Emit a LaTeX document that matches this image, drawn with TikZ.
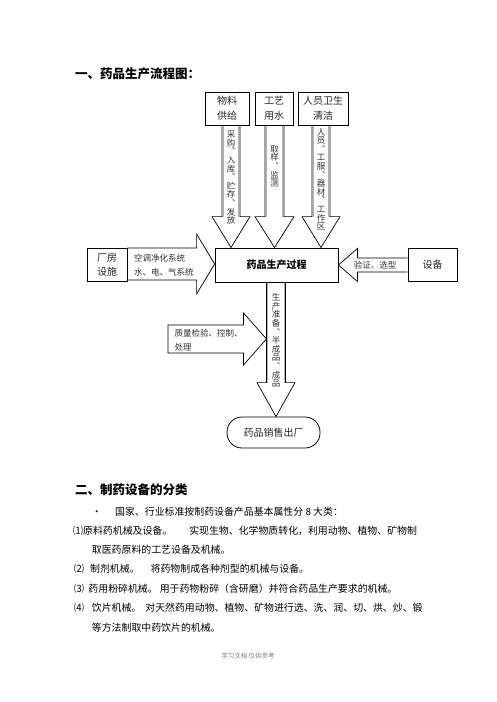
\documentclass[tikz,border=0pt]{standalone}
\usepackage{fontspec}
\setmainfont{Noto Sans CJK SC}
\newfontfamily\vfont{Noto Sans CJK SC}[RawFeature=+vert]
\usetikzlibrary{calc}
\tikzset{
  box/.style={draw, line width=0.8pt, inner sep=0pt, align=center, font=\fontsize{10}{15}\selectfont, text=black!85},
  blk/.style={draw, line width=0.7pt, line join=miter},
  shaftedge/.style={draw=gray!60, line width=1.1pt},
  lbl/.style={inner sep=0pt, font=\fontsize{8.5}{14}\selectfont, align=left, text=black!80},
  vlbl/.style={inner sep=0pt, font=\vfont\fontsize{8.5}{8.6}\selectfont, align=center, text=black!80},
  body/.style={anchor=west, inner sep=0pt, font=\fontsize{9.9}{12}\selectfont},
  headline/.style={anchor=west, inner sep=0pt, font=\bfseries\fontsize{12.5}{14}\selectfont},
}
% vertical block arrow: #1 x, #2 top anchor, #3 tip anchor, #4 half shaft, #5 half head, #6 head length
\newcommand\varrowx[6]{%
  \path (#1,0) coordinate (vx);
  \path (vx |- #2) coordinate (vt) (vx |- #3) coordinate (vb);
  \draw[blk] ($(vt)+(-#4,0)$) -- ($(vb)+(-#4,-#6)$) -- ($(vb)+(-#5,-#6)$) -- (vb)
     -- ($(vb)+(#5,-#6)$) -- ($(vb)+(#4,-#6)$) -- ($(vt)+(#4,0)$);
  \draw[shaftedge] ($(vt)+({-#4+1.3},0.6)$) -- ($(vb)+({-#4+1.3},-#6)$)
                   ($(vt)+({#4-1.3},0.6)$) -- ($(vb)+({#4-1.3},-#6)$);
}
% horizontal block arrow: #1 y, #2 start anchor, #3 tip anchor, #4 half shaft, #5 half head, #6 head base offset from tip
\newcommand\harrowx[6]{%
  \path (0,#1) coordinate (hy);
  \path (hy -| #2) coordinate (hs) (hy -| #3) coordinate (ht);
  \draw[blk] ($(hs)+(0,-#4)$) -- ($(ht)+(#6,-#4)$) -- ($(ht)+(#6,-#5)$) -- (ht)
     -- ($(ht)+(#6,#5)$) -- ($(ht)+(#6,#4)$) -- ($(hs)+(0,#4)$);
}
\begin{document}
\begin{tikzpicture}[x=1pt,y=-1pt]
\useasboundingbox (0,0) rectangle (496,702);
\fill[white] (0,0) rectangle (496,702);

% headings
\node[headline] (h1) at (75,74) {一、药品生产流程图：};

% boxes
\node[box, minimum width=44pt, minimum height=33pt] (wl) at (227,108.5) {物料\\供给};
\node[box, minimum width=38pt, minimum height=33pt] (gy) at (274,108.5) {工艺\\用水};
\node[box, minimum width=50pt, minimum height=33pt] (ry) at (323,108.5) {人员卫生\\清洁};
\node[box, minimum width=123pt, minimum height=34pt, font=\bfseries\fontsize{10}{12}\selectfont, text=black] (main) at (276.5,265) {药品生产过程};
\node[box, minimum width=40pt, minimum height=33pt, font=\fontsize{10}{14}\selectfont] (cf) at (107,264.5) {厂房\\设施};
\node[box, minimum width=49pt, minimum height=33pt] (sb) at (432.5,264.5) {设备};
\node[box, minimum width=93pt, minimum height=31pt, rounded corners=15pt] (out) at (273.5,432.5) {药品销售出厂};

% down arrows
\varrowx{231}{wl.south}{main.north}{9}{19}{31}
\varrowx{274.5}{gy.south}{main.north}{9.5}{19.5}{31}
\varrowx{321}{ry.south}{main.north}{9}{19}{31}
\varrowx{276}{main.south}{out.north}{9.5}{19}{34}

% horizontal arrows
\harrowx{264}{cf.east}{main.west}{16}{30}{-18}
\harrowx{265}{sb.west}{main.east}{7}{16.5}{19}
\coordinate (qs) at (168,339);
\coordinate (qt) at (266.5,339);
\draw[blk] ($(qs)+(0,-14)$) -- ($(qt)+(-23,-14)$) -- ($(qt)+(-23,-26)$) -- (qt)
   -- ($(qt)+(-23,26)$) -- ($(qt)+(-23,14)$) -- ($(qs)+(0,14)$) -- cycle;

% arrow labels
\node[lbl, anchor=west] (l1) at (134,265) {空调净化系统\\水、电、气系统};
\node[lbl] (l2) at (375,265) {验证、选型};
\node[lbl, anchor=west] (l3) at (174.5,340) {质量检验、控制、\\处理};
\node[vlbl] (v1) at (231,177.5) {采\\购\\、\\入\\库\\、\\贮\\存\\、\\发\\放};
\node[vlbl] (v2) at (274.5,166.5) {取\\样\\、\\监\\测};
\node[vlbl] (v3) at (321,179) {人\\员\\、\\工\\服\\、\\器\\材\\、\\工\\作\\区};
\node[vlbl] (v4) at (276,340.5) {生\\产\\准\\备\\、\\半\\成\\品\\、\\成\\品};

% second section
\node[headline] (h2) at (75,490) {二、制药设备的分类};
\node[body] (t0) at (91.7,512) {\makebox[23.3pt][l]{•}国家、行业标准按制药设备产品基本属性分 8 大类：};
\node[body] (t1) at (73,531) {\makebox[10pt][l]{⑴}原料药机械及设备。\hspace{17pt}实现生物、化学物质转化，利用动物、植物、矿物制};
\node[body] (t2) at (91.7,550) {取医药原料的工艺设备及机械。};
\node[body] (t3) at (74,569) {\makebox[16pt][l]{⑵}制剂机械。\hspace{11pt}将药物制成各种剂型的机械与设备。};
\node[body] (t4) at (74,589) {\makebox[14.3pt][l]{⑶}药用粉碎机械。\hspace{2pt}用于药物粉碎（含研磨）并符合药品生产要求的机械。};
\node[body] (t5) at (74,608) {\makebox[17.7pt][l]{⑷}饮片机械。\hspace{4pt}对天然药用动物、植物、矿物进行选、洗、润、切、烘、炒、锻};
\node[body] (t6) at (91.7,628) {等方法制取中药饮片的机械。};
\node[inner sep=0pt, font=\fontsize{6.5}{8}\selectfont, text=gray] (ft) at (248,656) {学习文档 仅供参考};
\end{tikzpicture}
\end{document}
